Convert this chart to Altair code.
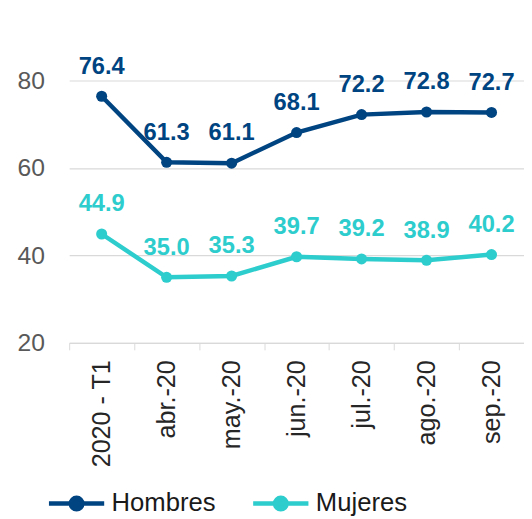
import altair as alt
import pandas as pd

categories = ["2020 - T1", "abr.-20", "may.-20", "jun.-20", "jul.-20", "ago.-20", "sep.-20"]
hombres = [76.4, 61.3, 61.1, 68.1, 72.2, 72.8, 72.7]
mujeres = [44.9, 35.0, 35.3, 39.7, 39.2, 38.9, 40.2]
series_names = ["Hombres", "Mujeres"]
series_colors = ["#004481", "#2DCCCD"]
y_ticks = [20, 40, 60, 80]

rows = []
for c, h, m in zip(categories, hombres, mujeres):
    rows.append({"cat": c, "serie": "Hombres", "valor": h})
    rows.append({"cat": c, "serie": "Mujeres", "valor": m})
df = pd.DataFrame(rows)

FONT = "Liberation Sans"
scale_col = alt.Scale(domain=series_names, range=series_colors)
sym_path = ("M-1,0H1M-0.21,0A0.21,0.21 0 1 0 0.21,0A0.21,0.21 0 1 0 -0.21,0Z")
legend = alt.Legend(
    title=None, orient="none", direction="horizontal", legendX=-23, legendY=398,
    symbolType=sym_path, symbolSize=3136, symbolStrokeWidth=4.5,
    labelFont=FONT, labelFontSize=26, labelColor="#1a1a1a", labelOffset=5,
    columnPadding=28,
)

x_enc = alt.X("cat:N", sort=categories,
              scale=alt.Scale(type="band", paddingInner=0, paddingOuter=0),
              axis=alt.Axis(title=None, labelAngle=-90, labelFont=FONT, labelFontSize=25.5,
                            labelColor="#262626", domainColor="#d9d9d9", tickColor="#d9d9d9",
                            tickSize=7, tickBand="extent", labelPadding=10, grid=False,
                            domainWidth=1.2))
y_enc = alt.Y("valor:Q", scale=alt.Scale(domain=[20, 80], nice=False, zero=False),
              axis=alt.Axis(title=None, values=y_ticks, grid=True, gridColor="#d9d9d9",
                            gridWidth=1.2, domain=False, ticks=False, labelFont=FONT,
                            labelFontSize=25, labelColor="#595959", labelPadding=25))

base = alt.Chart(df).encode(x=x_enc, y=y_enc)

line = base.mark_line(strokeWidth=4.5).encode(
    stroke=alt.Stroke("serie:N", scale=scale_col, legend=legend))
points = base.mark_point(filled=True, size=125, opacity=1).encode(
    fill=alt.Fill("serie:N", scale=scale_col, legend=legend))
labels = base.mark_text(dy=-30, fontSize=24, fontWeight="bold", font=FONT,
                        baseline="middle").encode(
    text=alt.Text("valor:Q", format=".1f"),
    fill=alt.Fill("serie:N", scale=scale_col, legend=legend))

chart = alt.layer(line, points, labels).properties(
    width=461, height=266,
    autosize=alt.AutoSizeParams(type="none"),
    padding={"left": 62, "top": 70, "right": 0, "bottom": 175},
).configure_view(stroke=None)

chart.save("out.html", embed_options={"renderer": "svg", "actions": False})
